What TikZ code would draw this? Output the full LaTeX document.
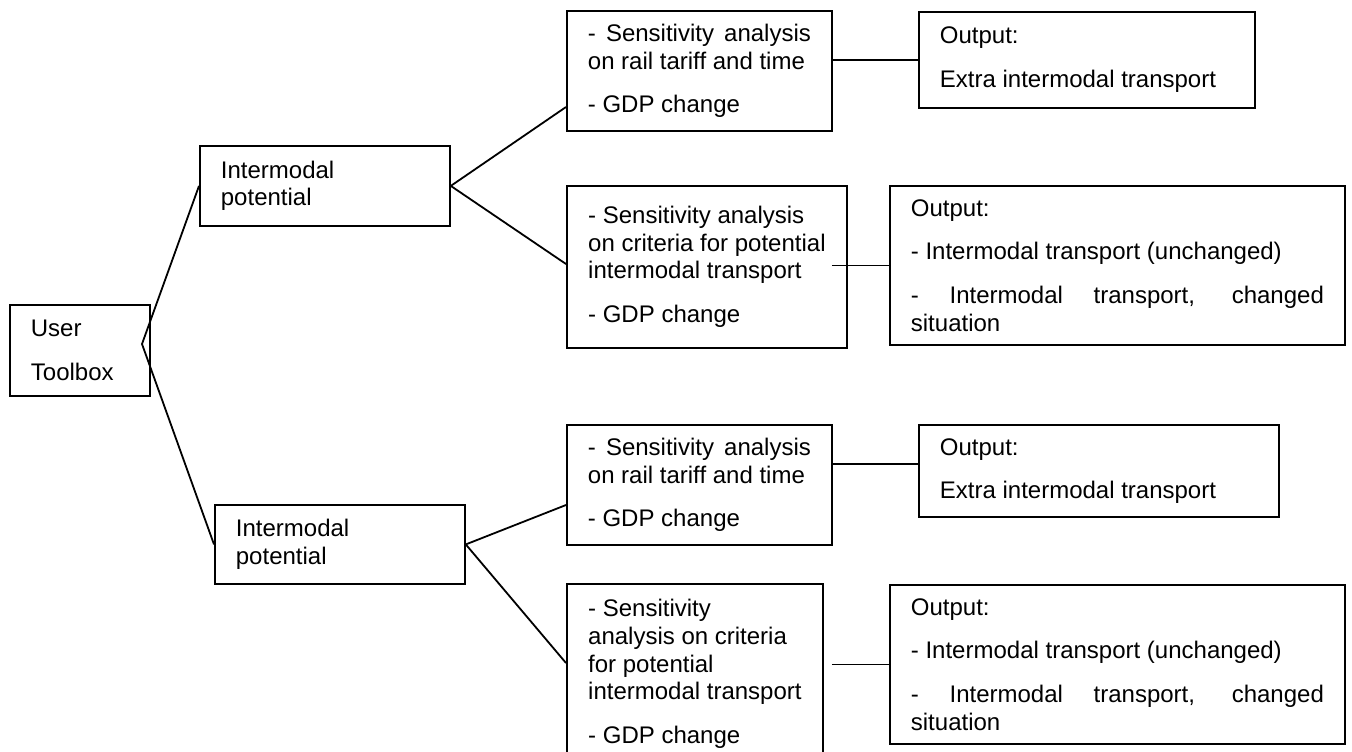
\documentclass[tikz,border=0pt]{standalone}
\usepackage{fontspec}
\setmainfont{Liberation Sans}
\usetikzlibrary{calc}
\tolerance=10000
\hbadness=10000
\hyphenpenalty=10000

\begin{document}
\begin{tikzpicture}[x=0.5pt,y=-0.5pt]
\tikzset{
  boxnode/.style={draw,line width=0.9pt,anchor=north west,inner xsep=10.5pt,inner ysep=2pt,align=left,font=\fontsize{12pt}{13.8pt}\selectfont},
  justnode/.style={boxnode,align=justify},
  link/.style={line width=0.9pt}
}
\path[use as bounding box,clip] (0,0) rectangle (1352,751);
\node[boxnode,text width=49pt,minimum height=45.5pt] (n_user) at (9,304) {User\\[8pt]Toolbox};
\node[boxnode,text width=104pt,minimum height=40pt] (n_ip_0) at (199,145) {Intermodal\\potential};
\node[boxnode,text width=104pt,minimum height=39.5pt] (n_ip_1) at (214,504) {Intermodal\\potential};
\node[justnode,text width=111.5pt,minimum height=60pt] (n_sa_0) at (566,10) {- Sensitivity analysis\linebreak on rail tariff and time\\[8pt]- GDP change};
\node[boxnode,minimum width=140pt,minimum height=81pt] (n_sa_1) at (566,185) {- Sensitivity analysis\\on criteria for potential\\intermodal transport\\[8pt]- GDP change};
\node[justnode,text width=111.5pt,minimum height=60pt] (n_sa_2) at (566,424) {- Sensitivity analysis\linebreak on rail tariff and time\\[8pt]- GDP change};
\node[boxnode,minimum width=128pt,minimum height=90pt] (n_sa_3) at (566,583) {- Sensitivity\\analysis on criteria\\for potential\\intermodal transport\\[8pt]- GDP change};
\node[justnode,text width=147pt,minimum height=48pt] (n_out_0) at (918,11) {Output:\\[8pt]Extra intermodal transport};
\node[justnode,text width=206.5pt,minimum height=79.5pt] (n_out_1) at (889,185) {Output:\\[8pt]- Intermodal transport (unchanged)\\[8pt]- Intermodal transport, changed\linebreak situation};
\node[justnode,text width=159pt,minimum height=46pt] (n_out_2) at (918,424) {Output:\\[8pt]Extra intermodal transport};
\node[justnode,text width=206.5pt,minimum height=79.5pt] (n_out_3) at (889,584) {Output:\\[8pt]- Intermodal transport (unchanged)\\[8pt]- Intermodal transport, changed\linebreak situation};
\coordinate (c_fork) at (142,344);
\coordinate (c_sa_0) at ($(n_sa_0.north west)+(0,97)$);
\coordinate (c_sa_1) at ($(n_sa_1.north west)+(0,79)$);
\coordinate (c_sa_2) at ($(n_sa_2.north west)+(0,81)$);
\coordinate (c_sa_3) at ($(n_sa_3.north west)+(0,80)$);
\coordinate (c_out_2) at ($(n_out_2.north west)+(0,40)$);
\draw[link] (n_ip_0.west) -- (c_fork) -- (n_ip_1.west);
\draw[link] (c_sa_0) -- (n_ip_0.east) -- (c_sa_1);
\draw[link] (c_sa_2) -- (n_ip_1.east) -- (c_sa_3);
\draw[link] (n_sa_0.east |- n_out_0.west) -- (n_out_0.west);
\draw[link] ($(n_sa_1.east |- n_out_1.west)+(-16,0)$) -- (n_out_1.west);
\draw[link] (n_sa_2.east |- c_out_2) -- (c_out_2);
\draw[link] ($(n_sa_3.east |- n_out_3.west)+(8,0)$) -- (n_out_3.west);
\end{tikzpicture}
\end{document}
